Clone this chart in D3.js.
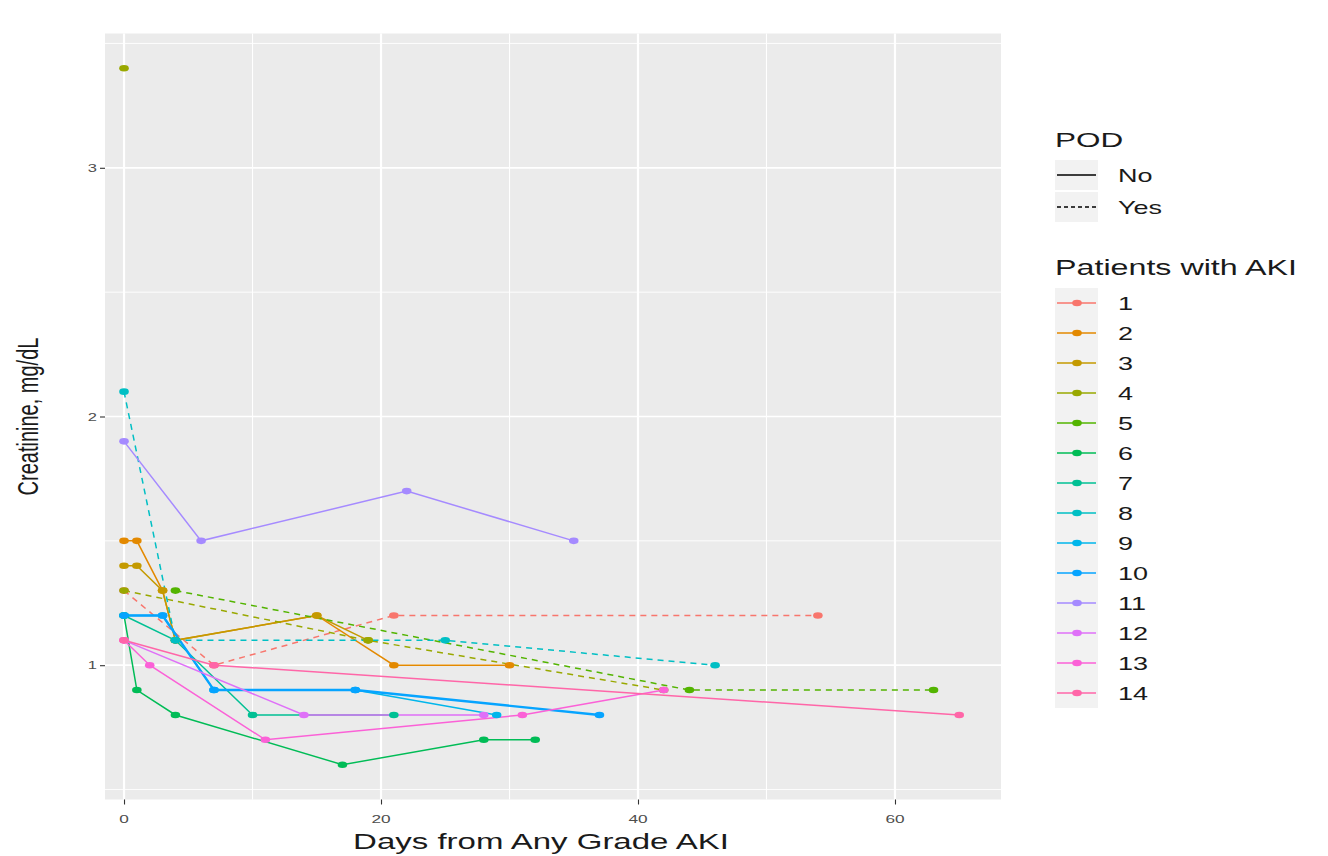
<!DOCTYPE html>
<html>
<head>
<meta charset="utf-8">
<script src="https://cdn.jsdelivr.net/npm/d3@7"></script>
<style>
  body { margin: 0; background: #fff; }
  text { font-family: "Liberation Sans", Arial, sans-serif; }
</style>
</head>
<body>
<svg width="1328" height="856"></svg>
<script>
// data
var patientIds = ["1","2","3","4","5","6","7","8","9","10","11","12","13","14"];
var patientDays = [
  [0, 7, 21, 54],
  [0, 1, 3, 4, 15, 21, 30],
  [0, 1, 3, 4, 15, 19],
  [0, 0, 19, 42],
  [4, 44, 63],
  [0, 1, 4, 17, 28, 32],
  [0, 4, 10, 21],
  [0, 4, 25, 46],
  [0, 3, 7, 18, 29],
  [0, 3, 7, 18, 37],
  [0, 6, 22, 35],
  [0, 14, 28],
  [0, 2, 11, 31, 42],
  [0, 7, 65]
];
var creatinine = [
  [1.3, 1.0, 1.2, 1.2],
  [1.5, 1.5, 1.3, 1.1, 1.2, 1.0, 1.0],
  [1.4, 1.4, 1.3, 1.1, 1.2, 1.1],
  [3.4, 1.3, 1.1, 0.9],
  [1.3, 0.9, 0.9],
  [1.2, 0.9, 0.8, 0.6, 0.7, 0.7],
  [1.2, 1.1, 0.8, 0.8],
  [2.1, 1.1, 1.1, 1.0],
  [1.2, 1.2, 0.9, 0.9, 0.8],
  [1.2, 1.2, 0.9, 0.9, 0.8],
  [1.9, 1.5, 1.7, 1.5],
  [1.1, 0.8, 0.8],
  [1.1, 1.0, 0.7, 0.8, 0.9],
  [1.1, 1.0, 0.8]
];
var podFlags = [
  ["Yes","Yes","Yes","Yes"],
  ["No","No","No","No","No","No","No"],
  ["No","No","No","No","No","No"],
  ["No","Yes","Yes","Yes"],
  ["Yes","Yes","Yes"],
  ["No","No","No","No","No","No"],
  ["No","No","No","No"],
  ["Yes","Yes","Yes","Yes"],
  ["No","No","No","No","No"],
  ["No","No","No","No","No"],
  ["No","No","No","No"],
  ["No","No","No"],
  ["No","No","No","No","No"],
  ["No","No","No"]
];
var xTicks = [0, 20, 40, 60];
var xMinor = [10, 30, 50];
var yTicks = [1, 2, 3];
var yMinor = [0.5, 1.5, 2.5, 3.5];
var podLevels = ["No", "Yes"];
var hueColors = ["#F8766D","#E38900","#C49A00","#99A800","#53B400","#00BC56","#00C094",
                 "#00BFC4","#00B6EB","#06A4FF","#A58AFF","#DF70F8","#FB61D7","#FF66A8"];

// one line per patient and POD level, like ggplot's grouping
var points = [], groups = [];
patientIds.forEach(function(id, i) {
  var pts = patientDays[i].map(function(d, j) {
    return {id: id, day: d, val: creatinine[i][j], pod: podFlags[i][j]};
  });
  points = points.concat(pts);
  podLevels.forEach(function(p) {
    var sub = pts.filter(function(q) { return q.pod == p; });
    if (sub.length > 1) groups.push({id: id, pod: p, pts: sub});
  });
});

var svg = d3.select("svg");
var sx = 1.5; // picture is stretched sideways, text too

var dy = d3.extent(points, function(d) { return d.val; });
var padY = (dy[1] - dy[0]) * 0.05;

var panel = {left: 105, right: 1001, top: 33.5, bottom: 799.5};

var x = d3.scaleLinear().domain([-1.48, 68.25]).range([panel.left, panel.right]);
var y = d3.scaleLinear().domain([dy[0] - padY, dy[1] + padY]).range([panel.bottom, panel.top]);
var color = d3.scaleOrdinal().domain(patientIds).range(hueColors);
var dash = d3.scaleOrdinal().domain(podLevels).range(["none", "6,5"]);

function wideText(parent, px, py, str, size, anchor, fill, rot) {
  var g = parent.append("g")
    .attr("transform", "translate(" + px + "," + py + ") scale(" + sx + ",1)" + (rot ? " rotate(" + rot + ")" : ""));
  return g.append("text")
    .attr("text-anchor", anchor || "start")
    .attr("font-size", size)
    .attr("fill", fill || "#1a1a1a")
    .text(str);
}

// panel
svg.append("rect")
  .attr("x", panel.left).attr("y", panel.top)
  .attr("width", panel.right - panel.left).attr("height", panel.bottom - panel.top)
  .attr("fill", "#EBEBEB");

var grid = svg.append("g").attr("class", "grid");
grid.selectAll("line.ymin").data(yMinor).enter().append("line")
  .attr("x1", panel.left).attr("x2", panel.right)
  .attr("y1", function(d) { return y(d); }).attr("y2", function(d) { return y(d); })
  .attr("stroke", "#fff").attr("stroke-width", 0.9);
grid.selectAll("line.xmin").data(xMinor).enter().append("line")
  .attr("y1", panel.top).attr("y2", panel.bottom)
  .attr("x1", function(d) { return x(d); }).attr("x2", function(d) { return x(d); })
  .attr("stroke", "#fff").attr("stroke-width", 1.1);
grid.selectAll("line.ymaj").data(yTicks).enter().append("line")
  .attr("x1", panel.left).attr("x2", panel.right)
  .attr("y1", function(d) { return y(d); }).attr("y2", function(d) { return y(d); })
  .attr("stroke", "#fff").attr("stroke-width", 1.7);
grid.selectAll("line.xmaj").data(xTicks).enter().append("line")
  .attr("y1", panel.top).attr("y2", panel.bottom)
  .attr("x1", function(d) { return x(d); }).attr("x2", function(d) { return x(d); })
  .attr("stroke", "#fff").attr("stroke-width", 2.2);

// axes
var xAxis = svg.append("g")
  .attr("transform", "translate(0," + panel.bottom + ")")
  .call(d3.axisBottom(x).tickValues(xTicks).tickSize(5).tickPadding(4));
var yAxis = svg.append("g")
  .attr("transform", "translate(" + panel.left + ",0)")
  .call(d3.axisLeft(y).tickValues(yTicks).tickSize(5).tickPadding(4));
[xAxis, yAxis].forEach(function(a) {
  a.select(".domain").remove();
  a.selectAll(".tick line").attr("stroke", "#333").attr("stroke-width", 1.1);
  a.selectAll(".tick text").remove();
});
xTicks.forEach(function(t) {
  wideText(svg, x(t), 823, t, 11.5, "middle", "#4D4D4D");
});
yTicks.forEach(function(t) {
  wideText(svg, 97, y(t) + 4, t, 11, "end", "#4D4D4D");
});

wideText(svg, (panel.left + panel.right) / 2 - 12, 849, "Days from Any Grade AKI", 22, "middle");
wideText(svg, 38, (panel.top + panel.bottom) / 2, "Creatinine, mg/dL", 20, "middle", "#1a1a1a", -90);

// lines then points
var line = d3.line()
  .x(function(d) { return x(d.day); })
  .y(function(d) { return y(d.val); });

var plot = svg.append("g").attr("class", "series");
plot.selectAll("path").data(groups).enter().append("path")
  .attr("d", function(d) { return line(d.pts); })
  .attr("fill", "none")
  .attr("stroke", function(d) { return color(d.id); })
  .attr("stroke-width", function(d) { return d.id == "10" ? 2.4 : 1.5; })
  .attr("stroke-dasharray", function(d) { return dash(d.pod); });

plot.append("g").selectAll("ellipse").data(points).enter().append("ellipse")
  .attr("cx", function(d) { return x(d.day); })
  .attr("cy", function(d) { return y(d.val); })
  .attr("rx", 4.8).attr("ry", 3.3)
  .attr("fill", function(d) { return color(d.id); });

// legends
var leg = svg.append("g").attr("class", "legend");
wideText(leg, 1055, 147, "POD", 21, "start");
podLevels.forEach(function(p, i) {
  var cy = 175 + i * 32;
  leg.append("rect").attr("x", 1055).attr("y", cy - 15).attr("width", 43).attr("height", 30).attr("fill", "#F2F2F2");
  leg.append("line").attr("x1", 1057).attr("x2", 1096).attr("y1", cy).attr("y2", cy)
    .attr("stroke", "#000").attr("stroke-width", 1.5)
    .attr("stroke-dasharray", p == "Yes" ? "4,3" : "none");
  wideText(leg, 1118, cy + 6.5, p, 18, "start");
});

wideText(leg, 1055, 275, "Patients with AKI", 21.5, "start");
patientIds.forEach(function(id, i) {
  var cy = 303 + i * 30;
  leg.append("rect").attr("x", 1055).attr("y", cy - 15).attr("width", 43).attr("height", 30).attr("fill", "#F2F2F2");
  leg.append("line").attr("x1", 1057).attr("x2", 1096).attr("y1", cy).attr("y2", cy)
    .attr("stroke", color(id)).attr("stroke-width", 1.5);
  leg.append("ellipse").attr("cx", 1077).attr("cy", cy).attr("rx", 4.8).attr("ry", 3.3).attr("fill", color(id));
  wideText(leg, 1118, cy + 6.5, id, 18, "start");
});
</script>
</body>
</html>
